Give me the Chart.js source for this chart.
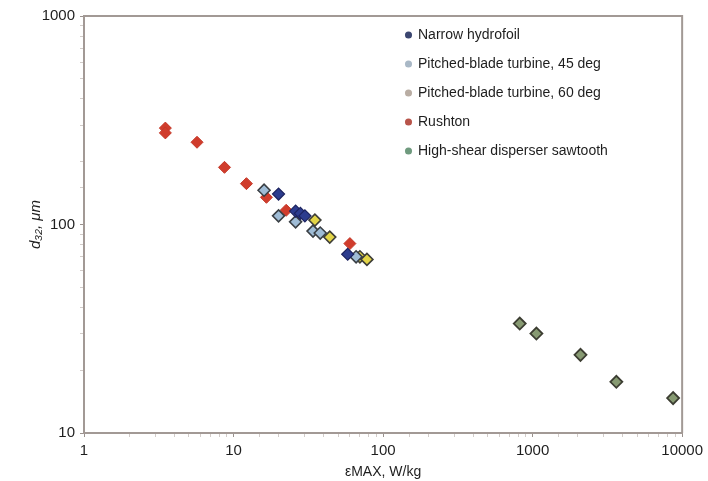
<!DOCTYPE html>
<html>
<head>
<meta charset="utf-8">
<script src="https://cdn.jsdelivr.net/npm/chart.js@4.4.1/dist/chart.umd.min.js"></script>
<style>
  html, body { margin: 0; padding: 0; background: #ffffff; }
  #wrap { position: relative; width: 708px; height: 481px; }
</style>
</head>
<body>
<div id="wrap"><canvas id="c" width="708" height="481"></canvas></div>
<script>
// ---- data ----
const seriesNames = [
  'Narrow hydrofoil',
  'Pitched-blade turbine, 45 deg',
  'Pitched-blade turbine, 60 deg',
  'Rushton',
  'High-shear disperser sawtooth'
];
// epsilon_max (W/kg) and d32 (um)
const hydrofoilX = [20, 26, 28, 30, 58];
const hydrofoilY = [140, 116, 113, 110, 72];
const pbt45X = [16, 20, 26, 34, 38, 66];
const pbt45Y = [146, 110, 103, 93, 91, 70];
const pbt60X = [35, 44, 70, 78];
const pbt60Y = [105, 87, 70, 68];
const rushtonX = [3.5, 3.5, 5.7, 8.7, 12.2, 16.6, 22.5, 60];
const rushtonY = [290, 275, 248, 188, 157, 135, 117, 81];
const shearX = [820, 1060, 2090, 3630, 8700];
const shearY = [33.5, 30, 23.7, 17.6, 14.7];
const xTickLabels = [1, 10, 100, 1000, 10000];
const yTickLabels = [10, 100, 1000];

function pts(xs, ys) { return xs.map((x, i) => ({ x: x, y: ys[i] })); }

const FONT = "'Liberation Sans Narrow', 'Arial Narrow', 'Liberation Sans', sans-serif";
const AXIS = '#a29995';

const framePlugin = {
  id: 'frame',
  afterLayout(chart) {
    const lg = chart.legend;
    if (lg) {
      const w = lg.width, h = lg.height;
      lg.left = 391; lg.top = 13;
      lg.right = lg.left + w; lg.bottom = lg.top + h;
    }
  },
  afterDatasetsDraw(chart) {
    const a = chart.chartArea, ctx = chart.ctx;
    ctx.save();
    ctx.strokeStyle = AXIS;
    ctx.lineWidth = 2;
    ctx.beginPath();
    ctx.moveTo(a.left, a.top);
    ctx.lineTo(a.right, a.top);
    ctx.lineTo(a.right, a.bottom);
    ctx.stroke();
    ctx.restore();
  }
};

const isMajor = v => xTickLabels.concat(yTickLabels).includes(Number(v));

new Chart(document.getElementById('c'), {
  type: 'scatter',
  data: {
    datasets: [
      { label: seriesNames[0], data: pts(hydrofoilX, hydrofoilY),
        backgroundColor: '#2c3c8e', borderColor: '#1d2460', borderWidth: 1.2,
        pointStyle: 'rectRot', pointRadius: 6 },
      { label: seriesNames[1], data: pts(pbt45X, pbt45Y),
        backgroundColor: '#9fbcd6', borderColor: '#3a3f44', borderWidth: 1.6,
        pointStyle: 'rectRot', pointRadius: 6 },
      { label: seriesNames[2], data: pts(pbt60X, pbt60Y),
        backgroundColor: '#e3d548', borderColor: '#3f3f38', borderWidth: 1.6,
        pointStyle: 'rectRot', pointRadius: 6 },
      { label: seriesNames[3], data: pts(rushtonX, rushtonY),
        backgroundColor: '#d03c2c', borderColor: '#c43828', borderWidth: 1,
        pointStyle: 'rectRot', pointRadius: 6 },
      { label: seriesNames[4], data: pts(shearX, shearY),
        backgroundColor: '#879a72', borderColor: '#3c3d32', borderWidth: 1.8,
        pointStyle: 'rectRot', pointRadius: 6 }
    ]
  },
  options: {
    responsive: false,
    animation: false,
    devicePixelRatio: 1,
    layout: { padding: { left: 27, top: 16, right: 20, bottom: 0 } },
    plugins: {
      legend: {
        position: 'chartArea',
        align: 'start',
        labels: {
          usePointStyle: true,
          boxWidth: 5,
          boxHeight: 5,
          padding: 15,
          color: '#1e1e1e',
          font: { family: FONT, size: 14 },
          generateLabels(chart) {
            const cols = ['#3b4670', '#a9b8c6', '#b9ada3', '#b8544a', '#6f9a7e'];
            return chart.data.datasets.map((d, i) => ({
              text: d.label, fillStyle: cols[i], strokeStyle: cols[i],
              lineWidth: 0, pointStyle: 'circle', hidden: false, datasetIndex: i,
              fontColor: '#1e1e1e'
            }));
          }
        }
      },
      tooltip: { enabled: false }
    },
    scales: {
      x: {
        type: 'logarithmic',
        min: 1, max: 10000,
        afterFit(s) { s.height = 48; },
        border: { color: AXIS, width: 2 },
        grid: {
          drawOnChartArea: false, drawTicks: true, tickLength: 4,
          color: ctx => (ctx.tick && isMajor(ctx.tick.value)) ? '#9a918d' : '#d2ccc9'
        },
        ticks: {
          autoSkip: false, maxRotation: 0, padding: 5,
          color: '#1e1e1e', font: { family: FONT, size: 15 },
          callback: v => xTickLabels.includes(Number(v)) ? String(v) : ''
        },
        title: {
          display: true, text: 'εMAX, W/kg', color: '#1e1e1e',
          font: { family: FONT, size: 14 }, padding: { top: 0, bottom: 0 }
        }
      },
      y: {
        type: 'logarithmic',
        min: 10, max: 1000,
        afterFit(s) { s.width = 57; },
        border: { color: AXIS, width: 2 },
        grid: {
          drawOnChartArea: false, drawTicks: true, tickLength: 4,
          color: ctx => (ctx.tick && isMajor(ctx.tick.value)) ? '#9a918d' : '#d2ccc9'
        },
        ticks: {
          autoSkip: false, padding: 5,
          color: '#1e1e1e', font: { family: FONT, size: 15 },
          callback: v => yTickLabels.includes(Number(v)) ? String(v) : ''
        },
        title: {
          display: true, text: 'd₃₂, μm', color: '#1e1e1e',
          font: { family: FONT, size: 15, style: 'italic' }, padding: { top: 0, bottom: 0 }
        }
      }
    }
  },
  plugins: [framePlugin]
});
</script>
</body>
</html>
